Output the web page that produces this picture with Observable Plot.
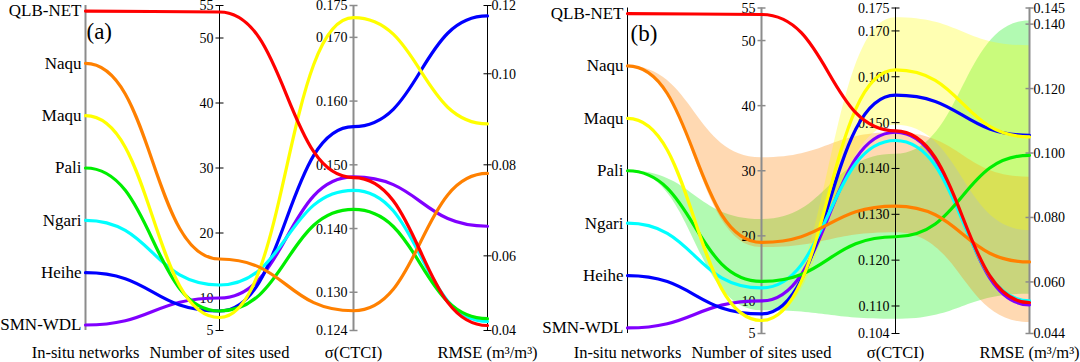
<!DOCTYPE html>
<html><head><meta charset="utf-8">
<script src="https://cdn.jsdelivr.net/npm/d3@7"></script>
<script src="https://cdn.jsdelivr.net/npm/@observablehq/plot@0.6"></script>
<style>
body{margin:0;background:#fff;}
#wrap{display:flex;width:1080px;height:362px;overflow:hidden;}
#wrap svg{flex:none;font-family:'Liberation Serif','Times New Roman',serif;}
</style></head><body><div id="wrap"></div>
<script>
// ---- data ----
const networks = ["QLB-NET","Naqu","Maqu","Pali","Ngari","Heihe","SMN-WDL"];
const colors   = ["#ff0000","#ff8000","#ffff00","#00ee00","#00ffff","#0000ff","#8000ff"];
const dims = ["net","sites","ctci","rmse"];
const dimLabels = ["In-situ networks","Number of sites used","σ(CTCI)","RMSE (m³/m³)"];

// panel (a)
const sitesA = [54, 16, 7, 8, 12, 8, 10];
const ctciA  = [0.1480, 0.1271, 0.1731, 0.1430, 0.1460, 0.1560, 0.1481];
const rmseA  = [0.0447, 0.0781, 0.0890, 0.0462, 0.0456, 0.1127, 0.0665];
// panel (b)
const sitesB = [54, 19, 7, 13, 12, 8, 10];
const ctciB  = [0.1482, 0.1318, 0.1615, 0.1251, 0.1461, 0.1560, 0.1479];
const rmseB  = [0.0536, 0.0662, 0.1050, 0.0993, 0.0541, 0.1055, 0.0529];
// panel (b) spread bands [low, high]
const bandNets   = ["Pali","Naqu","Maqu"];
const bandSites  = [[8.5, 22.5], [18.2, 32], [7, 7]];
const bandCtci   = [[0.1071, 0.1431], [0.126, 0.1478], [0.1494, 0.1729]];
const bandRmse   = [[0.0562, 0.1410], [0.0474, 0.0925], [0.0759, 0.1333]];

// tick values / labels
const sitesTicks = [5, 10, 20, 30, 40, 50, 55];
const sitesTickLabels = ["5","10","20","30","40","50","55"];
const ctciTicksA = [0.124, 0.130, 0.140, 0.150, 0.160, 0.170, 0.175];
const ctciTickLabelsA = ["0.124","0.130","0.140","0.150","0.160","0.170","0.175"];
const rmseTicksA = [0.0436, 0.06, 0.08, 0.10, 0.115];
const rmseTickLabelsA = ["0.04","0.06","0.08","0.10","0.12"];
const ctciTicksB = [0.104, 0.110, 0.120, 0.130, 0.140, 0.150, 0.160, 0.170, 0.175];
const ctciTickLabelsB = ["0.104","0.110","0.120","0.130","0.140","0.150","0.160","0.170","0.175"];
const rmseTicksB = [0.044, 0.060, 0.080, 0.100, 0.120, 0.140, 0.145];
const rmseTickLabelsB = ["0.044","0.060","0.080","0.100","0.120","0.140","0.145"];

const FONT = "Liberation Serif";
// horizontal dash symbol for axis ticks
const dash = {draw(ctx, size) { const r = Math.sqrt(size / Math.PI); ctx.moveTo(-r, 0); ctx.lineTo(r, 0); }};

function makePanel(cfg) {
  const N = {
    net: d3.scalePoint().domain(networks).range([0.983, 0.017]),
    sites: d3.scaleLinear().domain(d3.extent(sitesTicks)).range([0, 1]),
    ctci: d3.scaleLinear().domain(d3.extent(cfg.ctciTicks)).range([0, 1]),
    rmse: d3.scaleLinear().domain(d3.extent(cfg.rmseTicks)).range([0, 1])
  };
  const vals = {sites: cfg.sites, ctci: cfg.ctci, rmse: cfg.rmse};
  const lineRows = [];
  for (let i = networks.length - 1; i >= 0; i--) {
    for (const d of dims) {
      lineRows.push({net: networks[i], dim: d,
        v: d === "net" ? N.net(networks[i]) : N[d](vals[d][i])});
    }
  }
  const bandRows = [];
  (cfg.bands || []).forEach(b => {
    for (const d of dims) {
      if (d === "net") { const p = N.net(b.net); bandRows.push({net: b.net, dim: d, lo: p, hi: p}); }
      else bandRows.push({net: b.net, dim: d, lo: N[d](b[d][0]), hi: N[d](b[d][1])});
    }
  });
  const tickRows = [];
  sitesTicks.forEach((t, i) => tickRows.push({dim: "sites", v: N.sites(t), label: sitesTickLabels[i]}));
  cfg.ctciTicks.forEach((t, i) => tickRows.push({dim: "ctci", v: N.ctci(t), label: cfg.ctciLabels[i]}));
  cfg.rmseTicks.forEach((t, i) => tickRows.push({dim: "rmse", v: N.rmse(t), label: cfg.rmseLabels[i]}));
  const grayDims = dims.filter(d => cfg.gray.includes(d));
  const blackDims = dims.filter(d => !cfg.gray.includes(d));
  const gTicks = tickRows.filter(r => cfg.gray.includes(r.dim));
  const bTicks = tickRows.filter(r => !cfg.gray.includes(r.dim));
  const frameBottom = 362 - cfg.mb;
  return Plot.plot({
    width: 540, height: 362,
    marginLeft: cfg.ml, marginRight: cfg.mr, marginTop: cfg.mt, marginBottom: cfg.mb,
    x: {type: "point", domain: dims, padding: 0, axis: null},
    y: {domain: [0, 1], axis: null},
    color: {domain: networks, range: colors},
    style: {fontFamily: "'Liberation Serif',serif", fontSize: "14px", color: "#000", background: "#fff", overflow: "visible"},
    marks: [
      Plot.areaY(bandRows, {x: "dim", y1: "lo", y2: "hi", z: "net", fill: "net", fillOpacity: 0.3, curve: "bump-x"}),
      Plot.ruleX(grayDims, {x: d => d, y1: 0, y2: 1, stroke: "#8c8c8c", strokeWidth: 2}),
      Plot.ruleX(blackDims, {x: d => d, y1: 0, y2: 1, stroke: "#000", strokeWidth: 1}),
      Plot.dot(gTicks, {x: "dim", y: "v", symbol: dash, r: 4, stroke: "#8c8c8c", strokeWidth: 1.5, fill: "none"}),
      Plot.dot(bTicks, {x: "dim", y: "v", symbol: dash, r: 4, stroke: "#000", strokeWidth: 1, fill: "none"}),
      Plot.text(tickRows.filter(r => r.dim !== "rmse"), {x: "dim", y: "v", text: "label", textAnchor: "end", dx: -6, dy: 0.5, fontSize: 14, fontFamily: FONT}),
      Plot.text(tickRows.filter(r => r.dim === "rmse"), {x: "dim", y: "v", text: "label", textAnchor: "start", dx: 4, dy: 0.5, fontSize: 14, fontFamily: FONT}),
      Plot.text(networks, {x: () => "net", y: d => N.net(d), text: d => d, textAnchor: "end", dx: -4, fontSize: 17, fontFamily: FONT}),
      Plot.text(dims, {x: d => d, text: (d, i) => dimLabels[i], frameAnchor: "bottom", lineAnchor: "middle", dy: 352 - frameBottom, fontSize: 16.5, fontFamily: FONT}),
      Plot.text([cfg.tag], {frameAnchor: "top-left", lineAnchor: "middle", text: d => d, textAnchor: "start", dx: cfg.tagDx, dy: cfg.tagDy, fontSize: 23, fontFamily: FONT}),
      Plot.line(lineRows, {x: "dim", y: "v", z: "net", stroke: "net", strokeWidth: 3.2, curve: "bump-x"})
    ]
  });
}

const bands = bandNets.map((n, i) => ({net: n, sites: bandSites[i], ctci: bandCtci[i], rmse: bandRmse[i]}));

const wrap = document.getElementById("wrap");
wrap.appendChild(makePanel({
  sites: sitesA, ctci: ctciA, rmse: rmseA,
  ctciTicks: ctciTicksA, ctciLabels: ctciTickLabelsA,
  rmseTicks: rmseTicksA, rmseLabels: rmseTickLabelsA,
  bands: [], gray: ["net", "ctci"],
  ml: 84, mr: 52.3, mt: 5, mb: 32, tag: "(a)", tagDx: 2, tagDy: 26
}));
wrap.appendChild(makePanel({
  sites: sitesB, ctci: ctciB, rmse: rmseB,
  ctciTicks: ctciTicksB, ctciLabels: ctciTickLabelsB,
  rmseTicks: rmseTicksB, rmseLabels: rmseTickLabelsB,
  bands: bands, gray: ["sites", "rmse"],
  ml: 86, mr: 50.7, mt: 7.5, mb: 29, tag: "(b)", tagDx: 4, tagDy: 25.5
}));
</script></body></html>
